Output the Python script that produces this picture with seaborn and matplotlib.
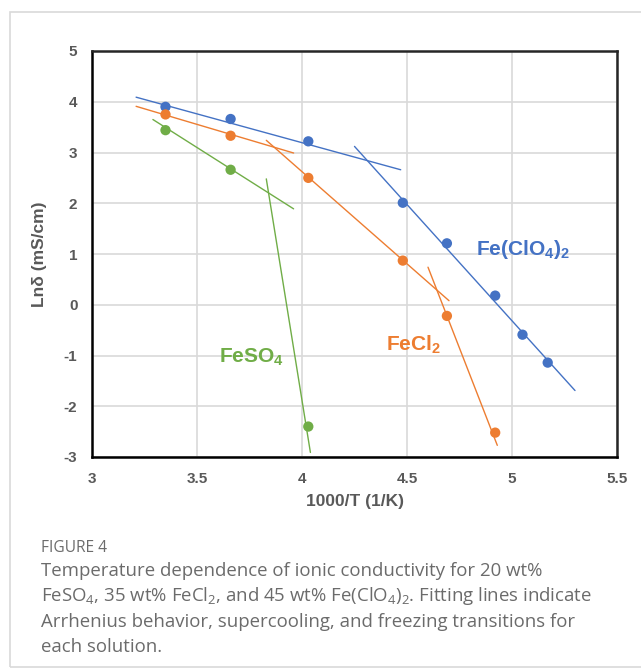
"""Ionic conductivity vs inverse temperature for three iron salt solutions."""

import numpy as np
import pandas as pd
import matplotlib

matplotlib.use("Agg")
import matplotlib.pyplot as plt
import seaborn as sns
from matplotlib.patches import Rectangle

# measured points (1000/T, ln sigma)
inv_t = [3.35, 3.66, 4.03, 4.48, 4.69, 4.92, 5.05, 5.17]
ln_clo4 = [3.90, 3.66, 3.22, 2.01, 1.21, 0.18, -0.59, -1.14]
ln_cl = [3.75, 3.33, 2.50, 0.87, -0.22, -2.52]
ln_so4 = [3.44, 2.66, -2.40]

# fitted line segments, endpoints: (x0, x1, y0, y1)
fit_clo4 = [(3.21, 4.47, 4.09, 2.66), (4.25, 5.30, 3.12, -1.69)]
fit_cl = [(3.21, 3.96, 3.91, 2.99), (3.83, 4.70, 3.24, 0.08), (4.60, 4.93, 0.74, -2.77)]
fit_so4 = [(3.29, 3.96, 3.65, 1.89), (3.83, 4.04, 2.48, -2.91)]

x_ticks = [3, 3.5, 4, 4.5, 5, 5.5]
x_tick_labels = ["3", "3.5", "4", "4.5", "5", "5.5"]
y_ticks = [-3, -2, -1, 0, 1, 2, 3, 4, 5]

BLUE = "#4472C4"
ORANGE = "#ED7D31"
GREEN = "#70AD47"
TXT = "#595959"

sns.set_style("white")
plt.rcParams["font.family"] = ["Liberation Sans", "DejaVu Sans"]
plt.rcParams["mathtext.fontset"] = "custom"
plt.rcParams["mathtext.rm"] = "Liberation Sans"
plt.rcParams["axes.unicode_minus"] = False

points = pd.concat(
    [
        pd.DataFrame({"x": inv_t[: len(ln_clo4)], "y": ln_clo4, "salt": "Fe(ClO4)2"}),
        pd.DataFrame({"x": inv_t[: len(ln_cl)], "y": ln_cl, "salt": "FeCl2"}),
        pd.DataFrame({"x": inv_t[: len(ln_so4)], "y": ln_so4, "salt": "FeSO4"}),
    ],
    ignore_index=True,
)
palette = {"Fe(ClO4)2": BLUE, "FeCl2": ORANGE, "FeSO4": GREEN}

fig = plt.figure(figsize=(6.41, 6.70), dpi=100)
ax = fig.add_axes([92 / 641, 1 - 457 / 670, (617 - 92) / 641, (457 - 51) / 670])

# fit lines
for segs, col in [(fit_clo4, BLUE), (fit_cl, ORANGE), (fit_so4, GREEN)]:
    for x0, x1, y0, y1 in segs:
        sns.lineplot(x=[x0, x1], y=[y0, y1], color=col, lw=1.0, ax=ax, zorder=2)

sns.scatterplot(
    data=points, x="x", y="y", hue="salt", palette=palette,
    s=55, edgecolor="none", legend=False, ax=ax, zorder=3,
)

ax.set_xlim(3, 5.5)
ax.set_ylim(-3, 5)
ax.set_xticks(x_ticks)
ax.set_xticklabels(x_tick_labels)
ax.set_yticks(y_ticks)
ax.grid(True, color="#D9D9D9", lw=1.2)
ax.set_axisbelow(True)

for side in ["left", "bottom"]:
    ax.spines[side].set_color("black")
    ax.spines[side].set_linewidth(1.8)
for side in ["top", "right"]:
    ax.spines[side].set_visible(True)
    ax.spines[side].set_color("#262626")
    ax.spines[side].set_linewidth(1.8)

ax.tick_params(
    axis="both", direction="inout", length=9, width=1.8, color="black",
    labelsize=11, labelcolor=TXT, pad=6,
)
for lab in ax.get_xticklabels() + ax.get_yticklabels():
    lab.set_fontweight("bold")

ax.set_xlabel("1000/T (1/K)", fontsize=12.5, fontweight="bold", color=TXT, labelpad=6)
ax.set_ylabel("Lnδ (mS/cm)", fontsize=12.5, fontweight="bold", color=TXT, labelpad=12)

ax.text(5.05, 1.08, r"Fe(ClO$\mathregular{_4}$)$\mathregular{_2}$", color=BLUE,
        fontsize=15, fontweight="bold", ha="center", va="center")
ax.text(4.53, -0.79, r"FeCl$\mathregular{_2}$", color=ORANGE,
        fontsize=15, fontweight="bold", ha="center", va="center")
ax.text(3.76, -1.04, r"FeSO$\mathregular{_4}$", color=GREEN,
        fontsize=15, fontweight="bold", ha="center", va="center")

# card border around the figure
fig.patches.append(Rectangle(
    (10 / 641, 3 / 670), 1.2, 1 - 15 / 670, transform=fig.transFigure,
    fill=False, edgecolor="#D9D9D9", lw=1.2,
))

cap_font = ["Open Sans", "DejaVu Sans"]
fig.text(41 / 641, 1 - 548 / 670, "FIGURE 4", color="#6b6b6b", fontsize=11.2,
         family=cap_font, va="center")
caption = [
    "Temperature dependence of ionic conductivity for 20 wt%",
    r"FeSO$\mathregular{_4}$, 35 wt% FeCl$\mathregular{_2}$, and 45 wt% "
    r"Fe(ClO$\mathregular{_4}$)$\mathregular{_2}$. Fitting lines indicate",
    "Arrhenius behavior, supercooling, and freezing transitions for",
    "each solution.",
]
for i, line in enumerate(caption):
    fig.text(41 / 641, 1 - (571 + i * 25.3) / 670, line, color="#6b6b6b",
             fontsize=13.4, family=cap_font, va="center")

fig.savefig("out.png", dpi=100)
plt.close(fig)
